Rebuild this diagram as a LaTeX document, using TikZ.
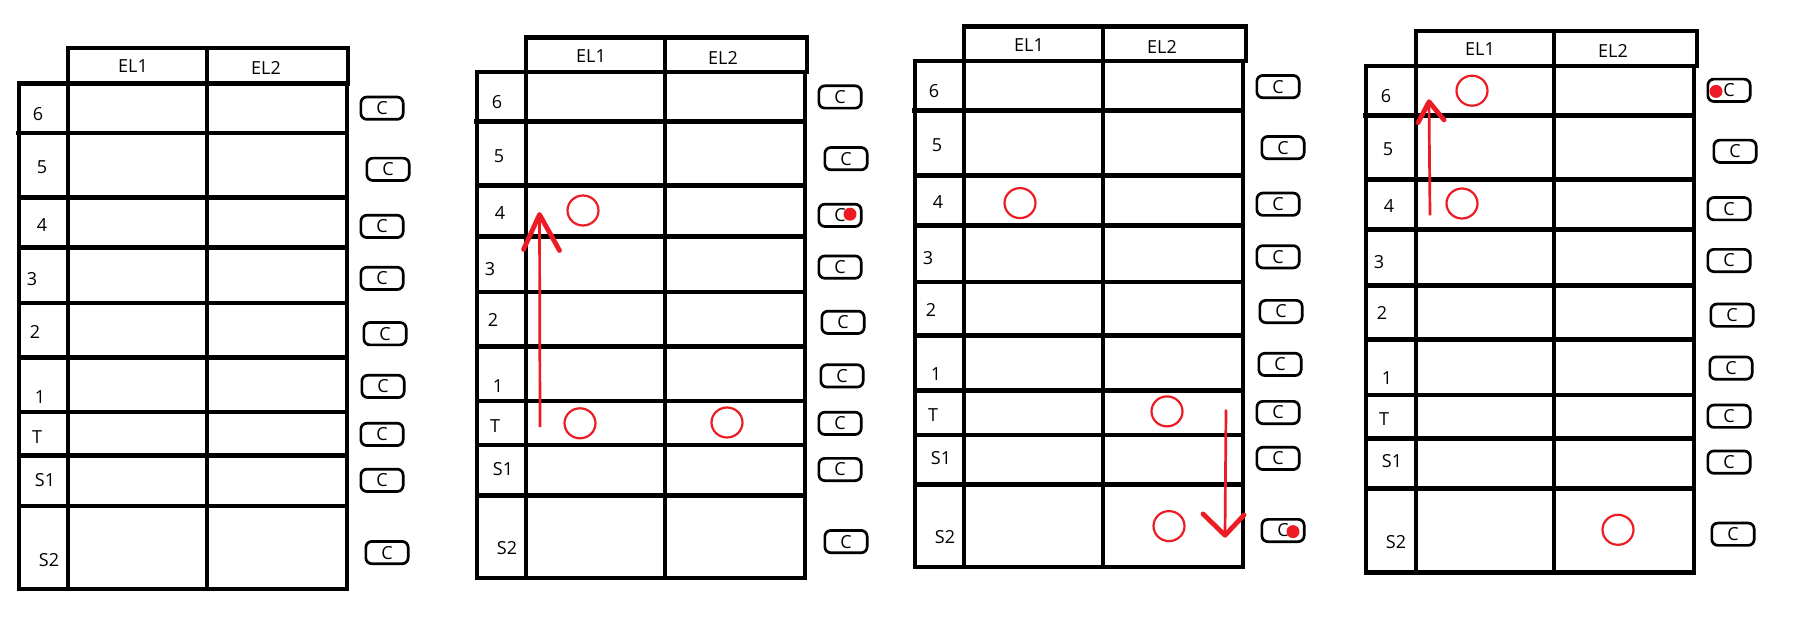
\documentclass[tikz,border=0pt]{standalone}
\usepackage{fontspec}
\setmainfont{Open Sans}
\usetikzlibrary{shapes.geometric}
\definecolor{paintred}{RGB}{237,28,36}
\tikzset{
  grid/.style={line width=4.4pt, line cap=rect, black},
  lbl/.style={inner sep=0pt, font=\fontsize{18}{18}\selectfont},
  cbox/.style={draw, line width=2.7pt, rounded corners=6pt, minimum width=42.3pt, minimum height=22.3pt, inner sep=0pt, font=\fontsize{18}{18}\selectfont},
  ring/.style={draw=paintred, line width=2.2pt, ellipse, minimum width=31pt, minimum height=30pt, inner sep=0pt},
  reddot/.style={fill=paintred, circle, minimum size=13pt, inner sep=0pt},
  shaft/.style={draw=paintred, line width=2.7pt},
  head/.style={draw=paintred, line width=4.8pt, line cap=round, line join=round},
}
\begin{document}
\begin{tikzpicture}[x=1pt,y=-1pt]
\useasboundingbox (0,0) rectangle (1808,623);
% ---------- Panel 1 ----------
\draw[grid] (68,48.2) -- (348,48.2) -- (348,83.5);
\draw[grid] (19,83.5) -- (348,83.5);
\draw[grid] (19,83.5) rectangle (347,589);
\draw[grid] (68,48.2) -- (68,589);
\draw[grid] (207,48.2) -- (207,589);
\draw[grid] (18,132.9) -- (347,132.9);
\foreach \y in {197.3,247.5,302.8,357.3,411.9,455.5,505.7} \draw[grid] (19,\y) -- (347,\y);
\node[lbl] (p1h1) at (133,66.4) {EL1};
\node[lbl] (p1h2) at (266,68.2) {EL2};
\foreach \t/\x/\y [count=\i] in {6/38/113.7,5/42/167.1,4/42/225.3,3/32/279.1,2/35/331.9,1/40/396.6,T/37/437.3,S1/45/479.9,S2/49/559.9}
  \node[lbl] (p1l\i) at (\x,\y) {\t};
\foreach \x/\y [count=\i] in {382/108.2,388/169.3,382/226.4,382/278.4,385/333.7,383/386.4,382/434.4,382/480.3,387/552.6}
  \node[cbox] (p1c\i) at (\x,\y) {C};
% ---------- Panel 2 ----------
\draw[grid] (526,37.4) -- (807,37.4) -- (807,71.8);
\draw[grid] (477,71.8) -- (807,71.8);
\draw[grid] (477,71.8) rectangle (805,577.9);
\draw[grid] (526,37.4) -- (526,577.9);
\draw[grid] (665,37.4) -- (665,577.9);
\draw[grid] (476,121.7) -- (805,121.7);
\foreach \y in {185.7,236.4,291.9,346.3,401.1,444.7,495.4} \draw[grid] (477,\y) -- (805,\y);
\node[lbl] (p2h1) at (591,55.9) {EL1};
\node[lbl] (p2h2) at (723,57.7) {EL2};
\foreach \t/\x/\y [count=\i] in {6/497/102.1,5/499/155.8,4/500/213.1,3/490/268.6,2/493/320.4,1/498/386.3,T/495/426.2,S1/503/468.8,S2/507/548.3}
  \node[lbl] (p2l\i) at (\x,\y) {\t};
\foreach \x/\y [count=\i] in {840/97.0,846/158.7,840/215.3,840/267.1,843/322.3,842/375.9,840/423.3,840/469.5,846/541.6}
  \node[cbox] (p2c\i) at (\x,\y) {C};
\node[reddot] (p2d) at (850,214.2) {};
\node[ring] (p2r1) at (583,210.5) {};
\node[ring] (p2r2) at (580,423.3) {};
\node[ring] (p2r3) at (727,422.5) {};
\coordinate (p2s) at (540,427);
\coordinate (p2t) at (539.5,214.5);
\coordinate (p2hl) at (523.5,249.5);
\coordinate (p2hr) at (559.5,250.5);
\draw[shaft] (p2s) -- (p2t);
\draw[head] (p2hl) -- (p2t) -- (p2hr);
% ---------- Panel 3 ----------
\draw[grid] (964,26.6) -- (1246,26.6) -- (1246,61.1);
\draw[grid] (915,61.1) -- (1246,61.1);
\draw[grid] (915,61.1) rectangle (1243,566.8);
\draw[grid] (964,26.6) -- (964,566.8);
\draw[grid] (1103,26.6) -- (1103,566.8);
\draw[grid] (914,110.6) -- (1243,110.6);
\foreach \y in {175.4,225.3,281.9,335.6,390.3,434.7,484.3} \draw[grid] (915,\y) -- (1243,\y);
\node[lbl] (p3h1) at (1029,45.1) {EL1};
\node[lbl] (p3h2) at (1162,47.0) {EL2};
\foreach \t/\x/\y [count=\i] in {6/934/91.4,5/937/145.0,4/938/202.4,3/928/257.9,2/931/309.7,1/936/374.4,T/933/415.1,S1/941/457.6,S2/945/537.2}
  \node[lbl] (p3l\i) at (\x,\y) {\t};
\foreach \x/\y [count=\i] in {1278/86.6,1283/147.6,1278/204.2,1278/256.8,1281/311.5,1280/364.4,1278/412.5,1278/458.4,1283/530.5}
  \node[cbox] (p3c\i) at (\x,\y) {C};
\node[reddot] (p3d) at (1293,531.6) {};
\node[ring] (p3r1) at (1020,203.1) {};
\node[ring] (p3r2) at (1167,411.4) {};
\node[ring] (p3r3) at (1169,526.1) {};
\coordinate (p3s) at (1226,409.6);
\coordinate (p3t) at (1225,535.3);
\coordinate (p3hl) at (1203,513.9);
\coordinate (p3hr) at (1244,515.0);
\draw[shaft] (p3s) -- (p3t);
\draw[head] (p3hl) -- (p3t) -- (p3hr);
% ---------- Panel 4 ----------
\draw[grid] (1416,31.1) -- (1697,31.1) -- (1697,66.2);
\draw[grid] (1366,66.2) -- (1697,66.2);
\draw[grid] (1366,66.2) rectangle (1694,572.3);
\draw[grid] (1416,31.1) -- (1416,572.3);
\draw[grid] (1554,31.1) -- (1554,572.3);
\draw[grid] (1365,115.4) -- (1694,115.4);
\foreach \y in {179.4,229.4,285.6,339.3,394.8,438.4,488.4} \draw[grid] (1366,\y) -- (1694,\y);
\node[lbl] (p4h1) at (1480,48.8) {EL1};
\node[lbl] (p4h2) at (1613,50.7) {EL2};
\foreach \t/\x/\y [count=\i] in {6/1386/95.8,5/1388/148.7,4/1389/206.1,3/1379/261.6,2/1382/313.4,1/1387/378.1,T/1384/418.8,S1/1392/461.4,S2/1396/541.6}
  \node[lbl] (p4l\i) at (\x,\y) {\t};
\foreach \x/\y [count=\i] in {1729/90.3,1735/151.3,1729/208.7,1729/260.5,1732/315.2,1731/368.1,1729/416.2,1729/462.1,1733/534.2}
  \node[cbox] (p4c\i) at (\x,\y) {C};
\node[reddot] (p4d) at (1716,91.4) {};
\node[ring] (p4r1) at (1472,90.7) {};
\node[ring] (p4r2) at (1462,203.5) {};
\node[ring] (p4r3) at (1618,529.8) {};
\coordinate (p4s) at (1430,215.3);
\coordinate (p4t) at (1429,101.7);
\coordinate (p4hl) at (1418,122.8);
\coordinate (p4hr) at (1444,119.9);
\draw[shaft] (p4s) -- (p4t);
\draw[head] (p4hl) -- (p4t) -- (p4hr);
\end{tikzpicture}
\end{document}
